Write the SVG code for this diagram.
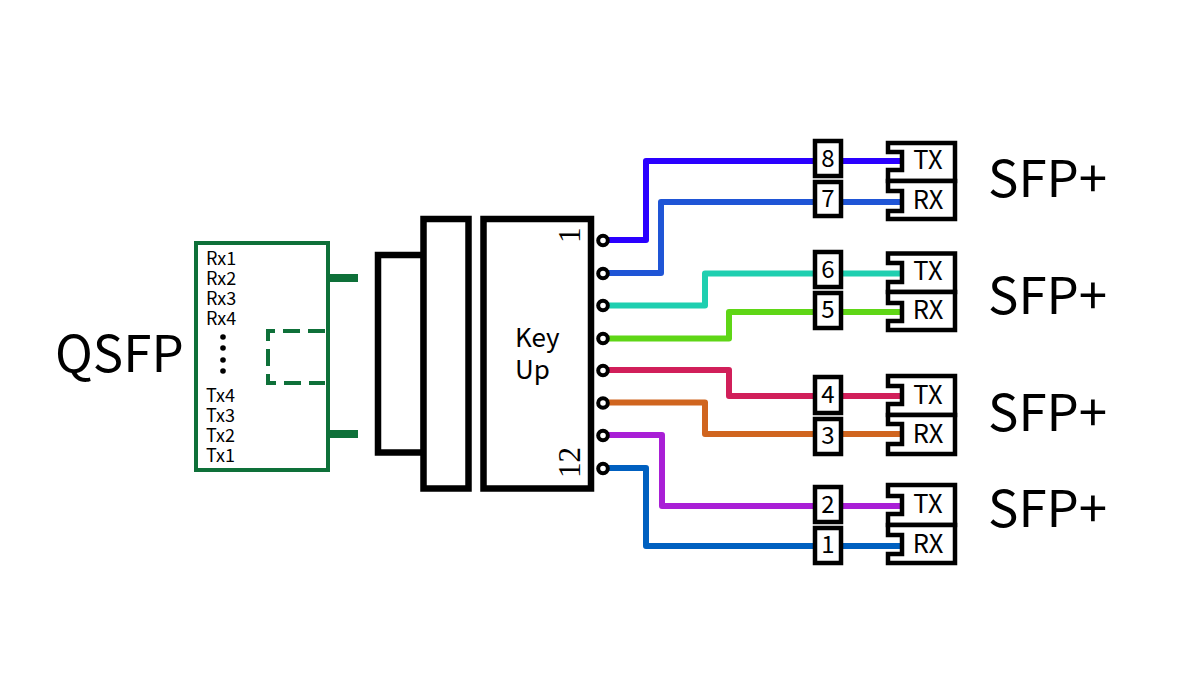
<svg xmlns="http://www.w3.org/2000/svg" width="1200" height="675" viewBox="0 0 1200 675">
<style>
text{font-family:"Noto Sans CJK JP","Noto Sans",sans-serif;fill:#000}
.big{font-size:51px}
.sm{font-size:18px}
.n{font-size:24px;text-anchor:middle}
.x{font-size:25.500px;text-anchor:middle}
.m{font-size:26px}
.d{font-size:31px;font-family:"Liberation Serif",serif}
.k{fill:#fff;stroke:#000;stroke-width:6.500}
.g{fill:none;stroke:#0e7039;stroke-width:4}
.c{fill:none;stroke-width:6;stroke-linejoin:round}
.p{fill:#fff;stroke:#000;stroke-width:4}
.b{fill:#fff;stroke:#000;stroke-width:4.500}
.t{fill:#fff;stroke:#000;stroke-width:4.500}
</style>
<rect width="1200" height="675" fill="#fff"/>
<g id="qsfp">
<text class="big" x="55" y="372">QSFP</text>
<rect x="196" y="243" width="132" height="227" fill="#fff" stroke="#0e7039" stroke-width="4"/>
<rect x="330" y="274" width="28" height="8" fill="#0e7039"/>
<rect x="330" y="430" width="28" height="8" fill="#0e7039"/>
<path class="g" d="M325 331H268V383H325" stroke-dasharray="17 8"/>
<g class="sm">
<text x="206" y="265">Rx1</text><text x="206" y="285">Rx2</text><text x="206" y="305">Rx3</text><text x="206" y="325">Rx4</text>
<text x="206" y="402">Tx4</text><text x="206" y="422">Tx3</text><text x="206" y="442">Tx2</text><text x="206" y="462">Tx1</text>
</g>
<circle cx="223" cy="337" r="2.800"/><circle cx="223" cy="348" r="2.800"/><circle cx="223" cy="360" r="2.800"/><circle cx="223" cy="371" r="2.800"/>
</g>
<g id="plug-a"><rect class="k" x="378" y="255" width="46" height="197.500"/></g>
<g id="plug-b"><rect class="k" x="423.500" y="219" width="45" height="269.500"/></g>
<g id="connector-body">
<rect class="k" x="483.500" y="219" width="107.500" height="269.500"/>
<text class="m" x="515" y="347">Key</text><text class="m" x="515" y="379">Up</text>
<text class="d" transform="translate(580 243) rotate(-90)">1</text>
<text class="d" transform="translate(580 478) rotate(-90)">12</text>
</g>
<g id="connectors">
<path class="c" stroke="#2a00ff" d="M608 240H646V161H902"/>
<path class="c" stroke="#1f55d6" d="M608 273H661V202H902"/>
<path class="c" stroke="#1fcfb0" d="M608 305.500H705V273.500H902"/>
<path class="c" stroke="#5fd616" d="M608 338.500H729V312H902"/>
<path class="c" stroke="#d11f5a" d="M608 370H729V396H902"/>
<path class="c" stroke="#d0651f" d="M608 402.500H705V434H902"/>
<path class="c" stroke="#a91fd6" d="M608 435H662V506H902"/>
<path class="c" stroke="#0060c0" d="M608 468H646V546H902"/>
</g>
<g id="ports">
<circle class="p" cx="603" cy="240.500" r="4.800"/><circle class="p" cx="603" cy="273.500" r="4.800"/><circle class="p" cx="603" cy="305.500" r="4.800"/><circle class="p" cx="603" cy="338.500" r="4.800"/>
<circle class="p" cx="603" cy="370.500" r="4.800"/><circle class="p" cx="603" cy="403" r="4.800"/><circle class="p" cx="603" cy="435.500" r="4.800"/><circle class="p" cx="603" cy="468.500" r="4.800"/>
</g>
<g id="label-8"><rect class="b" x="815" y="141" width="26" height="35"/><text class="n" x="828" y="167">8</text></g>
<g id="label-7"><rect class="b" x="815" y="182" width="26" height="34"/><text class="n" x="828" y="207">7</text></g>
<g id="label-6"><rect class="b" x="815" y="252" width="26" height="35"/><text class="n" x="828" y="278">6</text></g>
<g id="label-5"><rect class="b" x="815" y="293" width="26" height="35"/><text class="n" x="828" y="318">5</text></g>
<g id="label-4"><rect class="b" x="815" y="377" width="26" height="36"/><text class="n" x="828" y="403">4</text></g>
<g id="label-3"><rect class="b" x="815" y="419" width="26" height="35"/><text class="n" x="828" y="444">3</text></g>
<g id="label-2"><rect class="b" x="815" y="487" width="26" height="35"/><text class="n" x="828" y="513">2</text></g>
<g id="label-1"><rect class="b" x="815" y="528" width="26" height="35"/><text class="n" x="828" y="553">1</text></g>
<g id="sfp1">
<path class="t" d="M888 143H955V181H888V170H902V152H888Z"/><text class="x" x="928" y="169">TX</text>
<path class="t" d="M888 181H955V219H888V211H902V191H888Z"/><text class="x" x="928" y="209">RX</text>
<text class="big" x="988" y="197">SFP+</text>
</g>
<g id="sfp2">
<path class="t" d="M888 253.500H955V292H888V282H902V263H888Z"/><text class="x" x="928" y="280">TX</text>
<path class="t" d="M888 292H955V330H888V321H902V303H888Z"/><text class="x" x="928" y="319">RX</text>
<text class="big" x="988" y="314">SFP+</text>
</g>
<g id="sfp3">
<path class="t" d="M888 376H955V415H888V404H902V386H888Z"/><text class="x" x="928" y="404">TX</text>
<path class="t" d="M888 415H955V454H888V444H902V424H888Z"/><text class="x" x="928" y="443">RX</text>
<text class="big" x="988" y="431">SFP+</text>
</g>
<g id="sfp4">
<path class="t" d="M888 485H955V525H888V514H902V496H888Z"/><text class="x" x="928" y="513">TX</text>
<path class="t" d="M888 525H955V563H888V554H902V535H888Z"/><text class="x" x="928" y="553">RX</text>
<text class="big" x="988" y="527">SFP+</text>
</g>
</svg>
